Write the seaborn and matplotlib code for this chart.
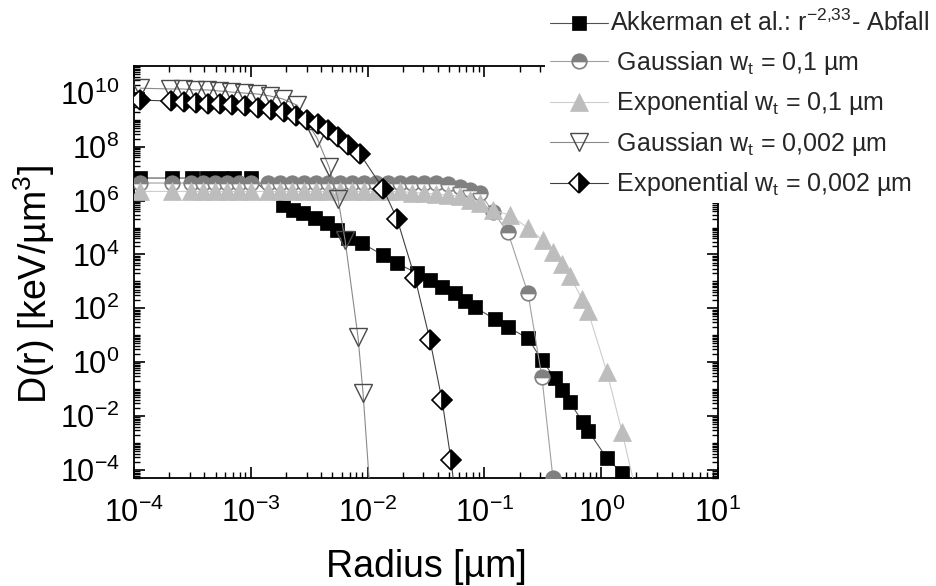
import numpy as np
import pandas as pd
import matplotlib
matplotlib.use("Agg")
import matplotlib.pyplot as plt
import seaborn as sns
from matplotlib.ticker import LogLocator, FixedLocator, LogFormatterSciNotation, NullFormatter

# ---------------- data ----------------
akk_x = [1.13e-4, 2.11e-4, 3.14e-4, 4.22e-4, 5.56e-4, 7.18e-4, 1.00e-3,
         1.89e-3, 2.30e-3, 2.80e-3, 3.55e-3, 4.49e-3, 5.47e-3, 6.79e-3, 8.95e-3,
         1.36e-2, 1.79e-2, 2.65e-2, 3.42e-2, 4.34e-2, 5.60e-2, 6.82e-2, 8.32e-2,
         0.123, 0.159, 0.236, 0.311, 0.402, 0.461, 0.541, 0.698, 0.771, 1.12, 1.51]
akk_y = [6.9e6, 6.9e6, 6.9e6, 6.9e6, 6.9e6, 6.9e6, 6.9e6,
         6.8e5, 4.4e5, 3.4e5, 2.2e5, 1.46e5, 8.0e4, 4.0e4, 2.6e4,
         9.4e3, 4.75e3, 2.0e3, 1.1e3, 6.1e2, 3.6e2, 1.84e2, 1.1e2,
         39, 20, 7.7, 1.18, 0.25, 0.090, 0.032, 5.8e-3, 2.9e-3, 2.7e-4, 7.5e-5]

g01_x = [1.13e-4, 2.11e-4, 3.08e-4, 3.90e-4, 4.93e-4, 6.25e-4, 7.92e-4, 1.00e-3,
         1.40e-3, 1.78e-3, 2.25e-3, 2.85e-3, 3.61e-3, 4.58e-3, 5.81e-3, 7.34e-3,
         9.31e-3, 1.18e-2, 1.50e-2, 1.89e-2, 2.40e-2, 3.04e-2, 3.85e-2, 4.88e-2,
         6.18e-2, 7.53e-2, 9.17e-2, 0.119, 0.159, 0.236, 0.311, 0.386]
g01_y = [4.5e6, 4.5e6, 4.5e6, 4.5e6, 4.5e6, 4.5e6, 4.5e6, 4.5e6,
         4.5e6, 4.5e6, 4.5e6, 4.5e6, 4.5e6, 4.5e6, 4.5e6, 4.5e6,
         4.5e6, 4.5e6, 4.5e6, 4.5e6, 4.5e6, 4.5e6, 4.5e6, 4.1e6,
         3.2e6, 2.5e6, 1.9e6, 3.7e5, 6.7e4, 3.6e2, 0.27, 5.0e-5]

e01_x = [1.13e-4, 2.11e-4, 3.08e-4, 3.90e-4, 4.93e-4, 6.25e-4, 7.92e-4, 1.00e-3,
         1.40e-3, 1.78e-3, 2.25e-3, 2.85e-3, 3.61e-3, 4.58e-3, 5.81e-3, 7.34e-3,
         9.31e-3, 1.18e-2, 1.50e-2, 1.89e-2, 2.40e-2, 3.04e-2, 3.85e-2, 4.88e-2,
         6.18e-2, 7.53e-2, 9.17e-2, 0.119, 0.166, 0.236, 0.318, 0.386, 0.461,
         0.541, 0.686, 0.771, 1.12, 1.51, 2.03]
e01_y = [2.2e6, 2.2e6, 2.2e6, 2.2e6, 2.2e6, 2.2e6, 2.2e6, 2.2e6,
         2.2e6, 2.2e6, 2.2e6, 2.2e6, 2.2e6, 2.2e6, 2.2e6, 2.2e6,
         2.2e6, 2.2e6, 2.2e6, 2.2e6, 2.0e6, 1.9e6, 1.75e6, 1.6e6,
         1.45e6, 1.1e6, 8.0e5, 4.4e5, 2.9e5, 9.5e4, 3.4e4, 1.22e4, 4.4e3,
         1.56e3, 2.2e2, 78, 0.42, 2.5e-3, 1.0e-5]

g002_x = [1.13e-4, 2.03e-4, 2.63e-4, 3.33e-4, 4.22e-4, 5.35e-4, 6.76e-4, 8.75e-4,
          1.13e-3, 1.46e-3, 1.89e-3, 2.49e-3, 3.69e-3, 4.68e-3, 5.58e-3, 6.41e-3,
          8.28e-3, 9.14e-3, 1.18e-2]
g002_y = [1.5e10, 1.4e10, 1.4e10, 1.29e10, 1.29e10, 1.18e10, 1.08e10, 9.9e9,
          9.1e9, 7.7e9, 5.9e9, 3.5e9, 2.1e8, 1.76e7, 1.14e6, 3.4e4,
          8.4, 0.070, 1.0e-8]

e002_x = [1.13e-4, 2.08e-4, 2.68e-4, 3.40e-4, 4.31e-4, 5.45e-4, 6.90e-4, 8.91e-4,
          1.15e-3, 1.49e-3, 1.92e-3, 2.44e-3, 3.03e-3, 3.76e-3, 4.58e-3, 5.58e-3,
          6.79e-3, 8.61e-3, 1.36e-2, 1.79e-2, 2.55e-2, 3.42e-2, 4.34e-2, 5.18e-2, 6.0e-2]
e002_y = [5.4e9, 5.0e9, 4.6e9, 4.2e9, 3.9e9, 3.9e9, 3.5e9, 3.3e9,
          2.7e9, 2.3e9, 1.95e9, 1.38e9, 9.8e8, 7.0e8, 4.2e8, 2.3e8,
          1.16e8, 5.4e7, 2.7e6, 2.05e5, 1.3e3, 6.5, 0.038, 2.25e-4, 1.0e-6]

series_labels = [
    r"Akkerman et al.: r$^{-2{,}33}$- Abfall",
    r" Gaussian w$_{\mathrm{t}}$ = 0,1 µm",
    r" Exponential w$_{\mathrm{t}}$ = 0,1 µm",
    r" Gaussian w$_{\mathrm{t}}$ = 0,002 µm",
    r" Exponential w$_{\mathrm{t}}$ = 0,002 µm",
]
x_tick_values = [1e-4, 1e-3, 1e-2, 1e-1, 1e0, 1e1]
y_tick_values = [1e-4, 1e-2, 1e0, 1e2, 1e4, 1e6, 1e8, 1e10]
x_label = "Radius [µm]"
y_label = "D(r) [keV/µm$^{3}$]"

# ---------------- style ----------------
sns.set_theme(style="ticks")
plt.rcParams['font.family'] = ['Liberation Sans', 'DejaVu Sans']
plt.rcParams['mathtext.fontset'] = 'custom'
plt.rcParams['mathtext.rm'] = 'Liberation Sans'
plt.rcParams['mathtext.it'] = 'Liberation Sans'
plt.rcParams['mathtext.bf'] = 'Liberation Sans:bold'
plt.rcParams['axes.unicode_minus'] = False

fig = plt.figure(figsize=(9.36, 5.86), dpi=100)
ax = fig.add_axes([0.1432, 0.1843, 0.6239, 0.7031])
ax.set_xscale('log')
ax.set_yscale('log')

styles = [
    dict(marker='s', markersize=10, color='#505050', markerfacecolor='black',
         markeredgecolor='black', markeredgewidth=0.5, linewidth=0.8),
    dict(marker='o', markersize=10.5, color='#a0a0a0', markerfacecolor='#808080',
         markerfacecoloralt='white', fillstyle='top', markeredgecolor='#808080',
         markeredgewidth=1.2, linewidth=0.8),
    dict(marker='^', markersize=12.5, color='#cccccc', markerfacecolor='#bdbdbd',
         markeredgecolor='#bdbdbd', markeredgewidth=0.5, linewidth=0.8),
    dict(marker='v', markersize=12.5, color='#8a8a8a', markerfacecolor='none',
         markeredgecolor='#4a4a4a', markeredgewidth=1.0, linewidth=0.8),
    dict(marker='D', markersize=10.5, color='#404040', markerfacecolor='black',
         markerfacecoloralt='white', fillstyle='right', markeredgecolor='black',
         markeredgewidth=1.2, linewidth=0.8),
]
all_x = [akk_x, g01_x, e01_x, g002_x, e002_x]
all_y = [akk_y, g01_y, e01_y, g002_y, e002_y]

handles = []
for i, (xs, ys, st, lab) in enumerate(zip(all_x, all_y, styles, series_labels)):
    df = pd.DataFrame({"r": xs, "D": ys})
    n_before = len(ax.get_lines())
    sns.lineplot(data=df, x="r", y="D", ax=ax, estimator=None, sort=False,
                 zorder=3 + i, **st)
    handles.append(ax.get_lines()[n_before])

ax.set_xlim(1e-4, 1e1)
ax.set_ylim(5e-5, 1e11)

ax.xaxis.set_major_locator(FixedLocator(x_tick_values))
ax.xaxis.set_major_formatter(LogFormatterSciNotation())
ax.xaxis.set_minor_locator(LogLocator(base=10, subs=np.arange(2, 10), numticks=30))
ax.xaxis.set_minor_formatter(NullFormatter())
ax.yaxis.set_major_locator(FixedLocator(y_tick_values))
ax.yaxis.set_major_formatter(LogFormatterSciNotation())
ax.yaxis.set_minor_locator(LogLocator(base=10, subs=np.arange(1, 10), numticks=40))
ax.yaxis.set_minor_formatter(NullFormatter())

ax.tick_params(which='both', direction='in', top=True, right=True, color='black')
ax.tick_params(which='major', length=8, width=1.2, labelsize=22, labelcolor='black')
ax.tick_params(axis='x', which='major', pad=14)
ax.tick_params(axis='y', which='major', pad=10.5)
ax.tick_params(which='minor', length=4, width=1.0)
for sp in ax.spines.values():
    sp.set_linewidth(1.3)
    sp.set_color('black')
    sp.set_visible(True)

ax.set_xlabel(x_label, fontsize=27, color='black')
ax.set_ylabel(y_label, fontsize=27, color='black')
ax.xaxis.set_label_coords(0.5, -0.172)
ax.yaxis.set_label_coords(-0.132, 0.47)

leg = ax.legend(handles, series_labels, loc='upper left',
                bbox_to_anchor=(545 / 936, 1 - 5 / 586),
                bbox_transform=fig.transFigure, fontsize=18,
                frameon=True, framealpha=1, facecolor='white', edgecolor='none',
                fancybox=False, borderpad=0.2, borderaxespad=0,
                handlelength=2.3, handletextpad=0.1, labelspacing=0.5)
leg.set_zorder(20)

fig.savefig("out.png", dpi=100)
